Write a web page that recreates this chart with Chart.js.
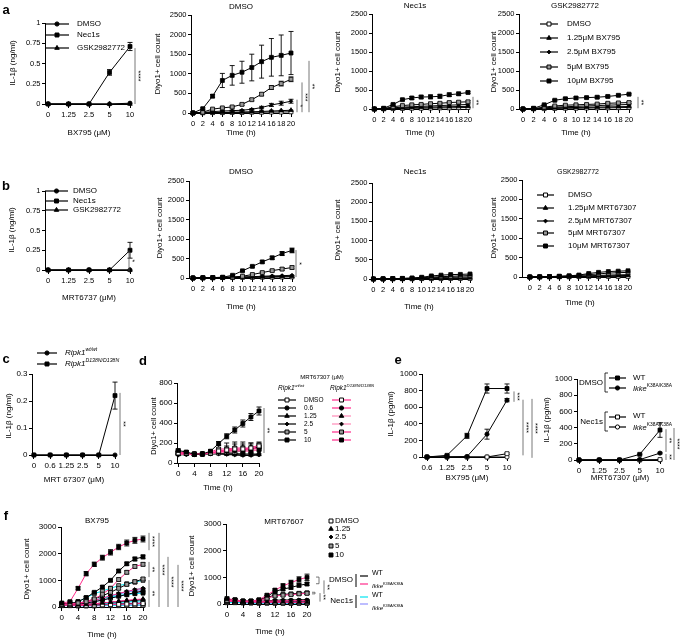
<!DOCTYPE html>
<html lang="en">
<head>
<meta charset="UTF-8" />
<title>IL-1b and Diyo1+ panels</title>
<script src="https://cdn.jsdelivr.net/npm/chart.js"></script>
<style>
  html, body { margin: 0; padding: 0; background: #fff; }
  #page { position: relative; width: 685px; height: 640px; overflow: hidden; }
  #page canvas { position: absolute; left: 0; top: 0; }
</style>
</head>
<body>
<div id="page"></div>
<script>
// ---------- axes / labels ----------
const hours = [0, 2, 4, 6, 8, 10, 12, 14, 16, 18, 20];
const hourTicks2 = [0, 2, 4, 6, 8, 10, 12, 14, 16, 18, 20];
const hourTicks4 = [0, 4, 8, 12, 16, 20];
const doseBX = ['0', '1.25', '2.5', '5', '10'];
const doseMRT = ['0', '1.25', '2.5', '5', '10'];
const doseC = ['0', '0.6', '1.25', '2.5', '5', '10'];
const doseE1 = ['0.6', '1.25', '2.5', '5', '10'];
const doseE2 = ['0', '1.25', '2.5', '5', '10'];
const il1bTicks = [0, 0.25, 0.5, 0.75, 1];
const countTicks = [0, 500, 1000, 1500, 2000, 2500];
const cTicks = [0, 0.1, 0.2, 0.3];
const dTicks = [0, 200, 400, 600, 800];
const eTicks = [0, 200, 400, 600, 800, 1000];
const fTicks = [0, 1000, 2000, 3000];

const inhibitors = ['DMSO', 'Nec1s', 'GSK2982772'];
const concBX = ['DMSO', '1.25μM BX795', '2.5μM BX795', '5μM BX795', '10μM BX795'];
const concMRT = ['DMSO', '1.25μM MRT67307', '2.5μM MRT67307', '5μM MRT67307', '10μM MRT67307'];
const concD = ['DMSO', '0.6', '1.25', '2.5', '5', '10'];
const concF = ['DMSO', '1.25', '2.5', '5', '10'];

// ---------- panel a ----------
const a1Dmso = [0, 0, 0, 0.39, 0.71];
const a1DmsoErr = [0, 0, 0, 0.035, 0.05];
const a1Nec1s = [0, 0, 0, 0, 0.01];
const a1Gsk = [0, 0, 0, 0, 0];
// rows: DMSO, 1.25, 2.5, 5, 10 uM
const a2Counts = [
  [0, 5, 10, 10, 15, 15, 20, 20, 25, 25, 30],
  [0, 5, 10, 15, 20, 25, 30, 40, 50, 60, 70],
  [0, 10, 35, 50, 60, 70, 95, 140, 205, 250, 300],
  [0, 20, 100, 130, 155, 220, 340, 480, 650, 750, 860],
  [0, 110, 430, 830, 960, 1040, 1160, 1310, 1420, 1470, 1530]
];
const a2Err = [null, null,
  [0, 5, 10, 10, 15, 15, 20, 30, 40, 50, 50],
  [0, 10, 20, 20, 25, 30, 30, 40, 50, 60, 60],
  [0, 20, 40, 180, 250, 280, 340, 420, 480, 520, 550]];
const a3Counts = [
  [0, 5, 10, 15, 20, 20, 25, 30, 30, 35, 40],
  [0, 5, 20, 30, 40, 45, 50, 55, 60, 65, 70],
  [0, 5, 30, 50, 60, 70, 80, 90, 100, 110, 120],
  [0, 10, 60, 90, 110, 120, 140, 150, 170, 180, 190],
  [0, 20, 120, 245, 290, 315, 320, 335, 375, 400, 435]
];
const a3Err = [null, null, null,
  [0, 5, 10, 15, 20, 20, 20, 25, 25, 30, 30],
  [0, 5, 15, 25, 40, 45, 50, 50, 45, 40, 30]];
const a4Counts = [
  [0, 5, 10, 15, 20, 20, 25, 30, 30, 35, 40],
  [0, 5, 20, 30, 35, 40, 45, 50, 55, 60, 65],
  [0, 5, 30, 50, 60, 70, 80, 90, 100, 110, 120],
  [0, 10, 50, 80, 100, 110, 120, 130, 150, 160, 170],
  [0, 20, 110, 230, 270, 290, 300, 310, 330, 360, 390]
];
const a4Err = [null, null, null,
  [0, 5, 10, 15, 20, 20, 20, 20, 25, 25, 25],
  [0, 5, 10, 20, 30, 30, 30, 30, 30, 30, 20]];

// ---------- panel b ----------
const b1Dmso = [0, 0, 0, 0, 0.25];
const b1DmsoErr = [0, 0, 0, 0, 0.1];
const b1Nec1s = [0, 0, 0, 0, 0];
const b1Gsk = [0, 0, 0, 0, 0];
const b2Counts = [
  [0, 5, 5, 10, 10, 15, 15, 20, 20, 25, 30],
  [0, 5, 10, 10, 15, 20, 25, 30, 35, 40, 45],
  [0, 5, 10, 15, 20, 25, 35, 45, 55, 60, 70],
  [0, 5, 10, 15, 25, 45, 90, 140, 190, 230, 270],
  [0, 5, 10, 20, 70, 185, 300, 415, 520, 630, 710]
];
const b2Err = [null, null, null,
  [0, 0, 5, 5, 10, 10, 15, 20, 30, 40, 40],
  [0, 0, 5, 5, 10, 15, 20, 30, 40, 50, 60]];
const b3Counts = [
  [0, 0, 5, 5, 5, 10, 10, 10, 15, 15, 15],
  [0, 0, 5, 5, 10, 10, 15, 20, 20, 25, 30],
  [0, 5, 5, 10, 15, 20, 30, 40, 45, 50, 55],
  [0, 5, 10, 15, 20, 30, 50, 60, 70, 80, 90],
  [0, 5, 10, 15, 25, 45, 80, 100, 115, 120, 130]
];
const b4Counts = [
  [0, 0, 5, 5, 5, 10, 10, 10, 15, 15, 15],
  [0, 0, 5, 5, 10, 15, 20, 25, 30, 35, 40],
  [0, 5, 5, 10, 15, 20, 30, 40, 50, 55, 60],
  [0, 5, 10, 15, 25, 40, 60, 80, 100, 110, 120],
  [0, 5, 10, 20, 30, 50, 90, 120, 140, 150, 160]
];

// ---------- panel c ----------
const cWt = [0, 0, 0, 0, 0, 0.22];
const cWtErr = [0, 0, 0, 0, 0, 0.05];
const cD138N = [0, 0, 0, 0, 0, 0];

// ---------- panel d (rows: DMSO, 0.6, 1.25, 2.5, 5, 10 uM) ----------
const dWt = [
  [110, 100, 90, 90, 100, 100, 110, 110, 120, 130, 160],
  [90, 90, 85, 90, 95, 100, 100, 95, 90, 90, 90],
  [85, 90, 85, 90, 95, 95, 90, 85, 80, 80, 85],
  [80, 85, 85, 90, 90, 90, 85, 80, 75, 75, 80],
  [100, 100, 90, 90, 100, 110, 120, 120, 130, 140, 160],
  [125, 110, 88, 90, 118, 195, 267, 330, 395, 460, 520]
];
const dWtErr = [null, null, null, null,
  [15, 10, 10, 10, 10, 20, 30, 40, 40, 40, 30],
  [15, 15, 10, 10, 15, 20, 25, 30, 35, 35, 40]];
const dMut = [
  [100, 100, 90, 90, 100, 120, 130, 140, 140, 150, 170],
  [90, 90, 85, 90, 100, 110, 120, 130, 130, 140, 150],
  [90, 90, 85, 90, 100, 110, 120, 125, 130, 135, 140],
  [85, 90, 85, 90, 95, 100, 110, 115, 120, 125, 130],
  [110, 100, 90, 90, 110, 140, 140, 150, 150, 150, 180],
  [100, 95, 85, 90, 100, 120, 130, 130, 120, 120, 130]
];
const dMutErr = [[20, 15, 10, 10, 20, 30, 40, 50, 50, 50, 30], null, null, null,
  [20, 15, 10, 10, 20, 40, 60, 60, 60, 50, 30], null];

// ---------- panel e ----------
const e1DmsoWt = [0, 20, 255, 825, 825];
const e1DmsoWtErr = [0, 10, 30, 55, 55];
const e1DmsoIkke = [0, 0, 5, 275, 685];
const e1DmsoIkkeErr = [0, 0, 0, 60, 20];
const e1Nec1sWt = [0, 0, 0, 0, 40];
const e1Nec1sWtErr = [0, 0, 0, 0, 10];
const e1Nec1sIkke = [0, 0, 0, 0, 0];
const e2DmsoWt = [0, 0, 0, 70, 370];
const e2DmsoWtErr = [0, 0, 0, 5, 90];
const e2DmsoIkke = [0, 0, 0, 5, 85];
const e2DmsoIkkeErr = [0, 0, 0, 0, 10];
const e2Nec1sWt = [0, 0, 0, 0, 5];
const e2Nec1sIkke = [0, 0, 0, 0, 0];

// ---------- panel f (rows: DMSO, 1.25, 2.5, 5, 10 uM) ----------
const f1Wt = [
  [80, 80, 70, 70, 80, 90, 100, 110, 120, 130, 140],
  [90, 90, 90, 100, 120, 150, 180, 200, 230, 250, 280],
  [100, 100, 110, 150, 200, 260, 330, 400, 470, 540, 600],
  [100, 110, 140, 200, 300, 420, 550, 700, 850, 950, 1050],
  [120, 130, 200, 350, 550, 750, 1000, 1350, 1620, 1800, 1880]
];
const f1WtErr = [null, null, null,
  [20, 20, 20, 30, 30, 40, 40, 50, 60, 60, 60],
  [20, 20, 30, 40, 40, 50, 50, 60, 60, 70, 70]];
const f1Ikke = [
  [70, 70, 60, 60, 70, 80, 90, 100, 110, 120, 130],
  [80, 80, 80, 100, 120, 150, 180, 220, 250, 280, 300],
  [100, 110, 130, 180, 250, 330, 420, 510, 580, 650, 700],
  [100, 120, 150, 200, 300, 480, 700, 1030, 1300, 1520, 1600],
  [150, 200, 700, 1250, 1600, 1850, 2050, 2250, 2400, 2500, 2550]
];
const f1IkkeErr = [null, null, null,
  [20, 20, 30, 30, 40, 50, 50, 60, 60, 60, 60],
  [30, 30, 60, 80, 80, 90, 100, 100, 110, 110, 110]];
const f1Nec1sWt = [
  [60, 60, 50, 50, 50, 60, 60, 70, 70, 80, 80],
  [70, 70, 70, 80, 100, 120, 150, 170, 190, 210, 230],
  [80, 90, 120, 170, 250, 330, 420, 500, 580, 650, 700],
  [100, 120, 200, 350, 500, 600, 700, 800, 870, 930, 1000],
  [100, 120, 150, 200, 260, 320, 380, 430, 470, 500, 520]
];
const f1Nec1sIkke = [
  [50, 50, 40, 40, 40, 50, 50, 50, 60, 60, 60],
  [60, 60, 60, 70, 80, 100, 110, 130, 140, 150, 160],
  [70, 70, 80, 100, 120, 150, 180, 210, 240, 260, 280],
  [80, 90, 110, 150, 200, 260, 330, 400, 460, 520, 560],
  [100, 110, 140, 190, 250, 320, 400, 480, 550, 610, 650]
];
const f2Wt = [
  [120, 110, 90, 80, 80, 70, 60, 60, 60, 50, 50],
  [130, 120, 100, 90, 90, 90, 90, 80, 80, 80, 80],
  [140, 130, 100, 90, 100, 120, 140, 150, 150, 160, 160],
  [150, 140, 100, 100, 120, 250, 330, 360, 380, 400, 420],
  [160, 150, 110, 110, 140, 280, 470, 560, 620, 700, 750]
];
const f2WtErr = [null, null, null,
  [30, 30, 20, 20, 20, 40, 40, 40, 40, 50, 50],
  [40, 30, 20, 20, 30, 40, 50, 60, 60, 60, 60]];
const f2Ikke = [
  [100, 100, 80, 70, 70, 60, 60, 50, 50, 50, 50],
  [110, 110, 90, 80, 80, 80, 80, 80, 70, 70, 70],
  [120, 120, 90, 90, 100, 110, 120, 120, 130, 130, 130],
  [130, 130, 100, 100, 130, 220, 300, 330, 350, 380, 400],
  [200, 160, 110, 110, 160, 330, 520, 680, 800, 920, 1000]
];
const f2IkkeErr = [null, null, null,
  [30, 30, 20, 20, 20, 40, 40, 40, 40, 50, 50],
  [60, 50, 30, 30, 40, 50, 60, 80, 90, 100, 120]];
const f2Nec1sWt = [
  [60, 60, 50, 40, 40, 40, 40, 30, 30, 30, 30],
  [70, 70, 60, 50, 50, 50, 50, 50, 40, 40, 40],
  [80, 80, 60, 60, 60, 60, 60, 60, 60, 60, 60],
  [90, 90, 70, 70, 70, 80, 90, 90, 100, 100, 100],
  [100, 100, 80, 80, 80, 100, 110, 110, 120, 120, 120]
];
const f2Nec1sIkke = [
  [50, 50, 40, 40, 30, 30, 30, 30, 30, 30, 30],
  [60, 60, 50, 50, 40, 40, 40, 40, 40, 40, 40],
  [70, 70, 60, 50, 50, 50, 50, 50, 50, 50, 50],
  [80, 80, 60, 60, 60, 70, 70, 70, 80, 80, 80],
  [90, 90, 70, 70, 70, 80, 90, 100, 100, 110, 110]
];

// ---------- drawing helpers ----------
const FONT = "'Liberation Sans', Arial, sans-serif";
Chart.defaults.font.family = FONT;
Chart.defaults.font.size = 8;
Chart.defaults.color = '#000';

const PINK = '#ff2a8a', PINK2 = '#ff8ab8', CYAN = '#00e5f0', PURPLE = '#9090ff';
const MK = {
  open: { ps: 'rect', r: 2.8, bg: '#fff' },
  tri: { ps: 'triangle', r: 2.6, bg: '#000' },
  dia: { ps: 'rectRot', r: 1.9, bg: '#000' },
  grey: { ps: 'rect', r: 2.8, bg: '#999' },
  sq: { ps: 'rect', r: 2.8, bg: '#000' },
  circ: { ps: 'circle', r: 2.1, bg: '#000' },
  ocirc: { ps: 'circle', r: 2.1, bg: '#fff' }
};
const concMarks = [MK.open, MK.tri, MK.dia, MK.grey, MK.sq];
const dMarks = [MK.open, MK.circ, MK.tri, MK.dia, MK.grey, MK.sq];
const dPinks = [PINK, PINK, PINK2, PINK2, PINK, PINK];

const page = document.getElementById('page');

function txt(ctx, s, x, y, o = {}) {
  ctx.save();
  ctx.font = (o.style || '') + ' ' + (o.size || 8) + 'px ' + FONT;
  ctx.fillStyle = '#000';
  ctx.textAlign = o.align || 'center';
  ctx.textBaseline = 'middle';
  ctx.translate(x, y);
  if (o.rot) ctx.rotate(o.rot);
  ctx.fillText(s, 0, 0);
  ctx.restore();
}

function rich(ctx, parts, x, y, size) {
  ctx.save();
  ctx.textBaseline = 'middle';
  ctx.textAlign = 'left';
  ctx.fillStyle = '#000';
  let cx = x;
  for (const [s, k] of parts) {
    const sup = k.includes('s');
    const fs = sup ? size * 0.65 : size;
    ctx.font = (k.includes('i') ? 'italic ' : '') + fs + 'px ' + FONT;
    ctx.fillText(s, cx, sup ? y - size * 0.4 : y);
    cx += ctx.measureText(s).width;
  }
  ctx.restore();
}

function marker(ctx, mk, x, y) {
  ctx.save();
  ctx.fillStyle = mk.bg;
  ctx.strokeStyle = '#000';
  ctx.lineWidth = 1;
  Chart.helpers.drawPoint(ctx, { pointStyle: mk.ps, radius: mk.r, rotation: 0, borderWidth: 1 }, x, y);
  ctx.restore();
}

function legendRow(ctx, mk, color, x1, x2, y) {
  ctx.save();
  ctx.strokeStyle = color;
  ctx.lineWidth = 1.2;
  ctx.beginPath();
  ctx.moveTo(x1, y);
  ctx.lineTo(x2, y);
  ctx.stroke();
  ctx.restore();
  if (mk) marker(ctx, mk, (x1 + x2) / 2, y);
}

function line(ctx, pts, color, w) {
  ctx.save();
  ctx.strokeStyle = color || '#000';
  ctx.lineWidth = w || 0.8;
  ctx.beginPath();
  pts.forEach(([x, y], i) => i ? ctx.lineTo(x, y) : ctx.moveTo(x, y));
  ctx.stroke();
  ctx.restore();
}

const errorBars = {
  id: 'errorBars',
  beforeDatasetsDraw(chart) {
    const { ctx, scales: { x, y } } = chart;
    ctx.save();
    ctx.strokeStyle = '#000';
    ctx.lineWidth = 0.9;
    chart.data.datasets.forEach(ds => {
      if (!ds.err) return;
      ds.data.forEach((p, i) => {
        const e = ds.err[i];
        if (!e) return;
        const px = x.getPixelForValue(p.x);
        const t = y.getPixelForValue(p.y + e), b = y.getPixelForValue(p.y - e);
        ctx.beginPath();
        ctx.moveTo(px, t); ctx.lineTo(px, b);
        ctx.moveTo(px - 2.5, t); ctx.lineTo(px + 2.5, t);
        ctx.moveTo(px - 2.5, b); ctx.lineTo(px + 2.5, b);
        ctx.stroke();
      });
    });
    ctx.restore();
  }
};

function drawSigs(ctx, y, sigs) {
  for (const s of sigs) {
    const a = y.getPixelForValue(s.y1), b = y.getPixelForValue(s.y2);
    if (s.cap) line(ctx, [[s.x - 3, a], [s.x, a], [s.x, b], [s.x - 3, b]], '#555');
    else line(ctx, [[s.x, a], [s.x, b]], '#555');
    if (s.t) txt(ctx, s.t, s.x + 3, (a + b) / 2, { size: 7, rot: Math.PI / 2 });
  }
}

function build(p) {
  const cv = document.createElement('canvas');
  cv.width = 685; cv.height = 640;
  cv.style.width = '685px'; cv.style.height = '640px';
  page.appendChild(cv);
  const YW = 30, XH = 16;
  const [L, T, R, B] = p.area;
  const axisFont = { size: p.tickSize || 8 };
  new Chart(cv, {
    type: 'line',
    data: {
      datasets: p.series.map(s => ({
        data: p.xs.map((x, i) => ({ x, y: s.y[i] })),
        err: s.err || null,
        borderColor: s.color || '#000',
        borderWidth: 1,
        pointStyle: s.mk.ps,
        pointRadius: s.mk.r,
        pointBackgroundColor: s.mk.bg,
        pointBorderColor: '#000',
        pointBorderWidth: 0.8,
        clip: false,
        tension: 0,
        fill: false
      }))
    },
    options: {
      responsive: false,
      animation: false,
      events: [],
      layout: { padding: { left: L - YW, top: T, right: 685 - R, bottom: 640 - B - XH } },
      plugins: { legend: { display: false }, tooltip: { enabled: false } },
      scales: {
        x: {
          type: 'linear', min: p.xMin, max: p.xMax,
          afterBuildTicks: s => { s.ticks = p.xTicks.map(v => ({ value: v })); },
          afterFit: s => { s.height = XH; },
          ticks: { autoSkip: false, maxRotation: 0, padding: 2, font: axisFont,
            callback: p.xLabel || (v => String(v)) },
          grid: { drawOnChartArea: false, tickLength: 4, color: '#000' },
          border: { color: '#000' }
        },
        y: {
          type: 'linear', min: 0, max: p.yMax,
          afterBuildTicks: s => { s.ticks = p.yTicks.map(v => ({ value: v })); },
          afterFit: s => { s.width = YW; },
          ticks: { padding: 1.5, font: axisFont, callback: v => String(v) },
          grid: { drawOnChartArea: false, tickLength: 3, color: '#000' },
          border: { color: '#000' }
        }
      }
    },
    plugins: [errorBars, {
      id: 'extra',
      afterDraw(chart) {
        const ctx = chart.ctx;
        (p.texts || []).forEach(([s, x, y, o]) => txt(ctx, s, x, y, o));
        drawSigs(ctx, chart.scales.y, p.sigs || []);
        if (p.legend) p.legend(ctx);
      }
    }]
  });
}

function concSeries(rows, errs, colors) {
  // drawn so that the highest concentration sits on top
  return rows.map((y, i) => ({ y, err: errs ? errs[i] : null, mk: concMarks[i], color: colors ? colors[i] : '#000' })).reverse();
}

const ROT = -Math.PI / 2;
const idx5 = [0, 1, 2, 3, 4];

// ---------- panel a ----------
build({
  area: [45, 23, 130, 104], xs: idx5, xMin: -0.15, xMax: 4, xTicks: idx5, tickSize: 7.5,
  xLabel: (v, i) => doseBX[i], yMax: 1, yTicks: il1bTicks,
  series: [
    { y: a1Dmso, err: a1DmsoErr, mk: MK.sq },
    { y: a1Nec1s, mk: MK.circ },
    { y: a1Gsk, mk: MK.tri }
  ],
  sigs: [{ x: 135, y1: 0.69, y2: 0, t: '****' }],
  texts: [['a', 6, 10, { size: 13, style: 'bold' }], ['IL-1β (ng/ml)', 13, 63, { rot: ROT }], ['BX795 (μM)', 89, 133]],
  legend: ctx => {
    [[MK.circ, 24], [MK.sq, 35], [MK.tri, 48]].forEach(([mk, y], i) => {
      legendRow(ctx, mk, '#000', 45, 69, y);
      txt(ctx, inhibitors[i], 77, y, { align: 'left' });
    });
  }
});

build({
  area: [191, 15, 291, 113], xs: hours, xMin: -0.4, xMax: 20, xTicks: hourTicks2, tickSize: 7.5,
  yMax: 2500, yTicks: countTicks, series: concSeries(a2Counts, a2Err),
  sigs: [{ x: 297, y1: 340, y2: 20, t: '*' }, { x: 302, y1: 780, y2: 20, t: '***' }, { x: 309, y1: 1330, y2: 20, t: '**' }],
  texts: [['DMSO', 241, 7], ['Diyo1+ cell count', 158, 64, { rot: ROT }], ['Time (h)', 241, 133]]
});

build({
  area: [372, 14, 468, 109], xs: hours, xMin: -0.5, xMax: 20, xTicks: hourTicks2, tickSize: 7.5,
  yMax: 2500, yTicks: countTicks, series: concSeries(a3Counts, a3Err),
  sigs: [{ x: 473, y1: 320, y2: 20, t: '**' }],
  texts: [['Nec1s', 415, 6], ['Diyo1+ cell count', 338, 62, { rot: ROT }], ['Time (h)', 420, 133]]
});

build({
  area: [519, 14, 629, 109], xs: hours, xMin: -0.75, xMax: 20, xTicks: hourTicks2, tickSize: 7.5,
  yMax: 2500, yTicks: countTicks, series: concSeries(a4Counts, a4Err),
  sigs: [{ x: 638, y1: 320, y2: 20, t: '**' }],
  texts: [['GSK2982772', 575, 6], ['Diyo1+ cell count', 494, 62, { rot: ROT }], ['Time (h)', 576, 133]],
  legend: ctx => {
    [24, 38, 52, 67, 81].forEach((y, i) => {
      legendRow(ctx, concMarks[i], '#000', 540, 558, y);
      txt(ctx, concBX[i], 567, y, { align: 'left' });
    });
  }
});

// ---------- panel b ----------
build({
  area: [45, 191, 130, 270], xs: idx5, xMin: -0.15, xMax: 4, xTicks: idx5, tickSize: 7.5,
  xLabel: (v, i) => doseMRT[i], yMax: 1, yTicks: il1bTicks,
  series: [
    { y: b1Dmso, err: b1DmsoErr, mk: MK.sq },
    { y: b1Nec1s, mk: MK.circ },
    { y: b1Gsk, mk: MK.tri }
  ],
  sigs: [{ x: 129, y1: 0.25, y2: -0.02, t: '*' }],
  texts: [['b', 6, 186, { size: 13, style: 'bold' }], ['IL-1β (ng/ml)', 12, 230, { rot: ROT }], ['MRT6737 (μM)', 89, 298]],
  legend: ctx => {
    [[MK.circ, 191], [MK.sq, 201], [MK.tri, 210]].forEach(([mk, y], i) => {
      legendRow(ctx, mk, '#000', 45, 68, y);
      txt(ctx, inhibitors[i], 73, y, { align: 'left' });
    });
  }
});

build({
  area: [189, 181, 292, 278], xs: hours, xMin: -0.8, xMax: 20, xTicks: hourTicks2, tickSize: 7.5,
  yMax: 2500, yTicks: countTicks, series: concSeries(b2Counts, b2Err),
  sigs: [{ x: 296, y1: 720, y2: 25, t: '*' }],
  texts: [['DMSO', 241, 172], ['Diyo1+ cell count', 160, 228, { rot: ROT }], ['Time (h)', 241, 307]]
});

build({
  area: [372, 183, 470, 279], xs: hours, xMin: -0.3, xMax: 20, xTicks: hourTicks2, tickSize: 7.5,
  yMax: 2500, yTicks: countTicks, series: concSeries(b3Counts),
  texts: [['Nec1s', 415, 172], ['Diyo1+ cell count', 338, 230, { rot: ROT }], ['Time (h)', 419, 307]]
});

build({
  area: [522, 180, 628, 277], xs: hours, xMin: -1.6, xMax: 20, xTicks: hourTicks2, tickSize: 7.5,
  yMax: 2500, yTicks: countTicks, series: concSeries(b4Counts),
  texts: [['GSK2982772', 578, 172, { size: 7 }], ['Diyo1+ cell count', 494, 228, { rot: ROT }], ['Time (h)', 580, 303]],
  legend: ctx => {
    [195, 208, 221, 233, 246].forEach((y, i) => {
      legendRow(ctx, concMarks[i], '#000', 537, 554, y);
      txt(ctx, concMRT[i], 568, y, { align: 'left' });
    });
  }
});

// ---------- panel c ----------
build({
  area: [32, 374, 115, 455], xs: [0, 1, 2, 3, 4, 5], xMin: -0.12, xMax: 5, xTicks: [0, 1, 2, 3, 4, 5],
  xLabel: (v, i) => doseC[i], yMax: 0.3, yTicks: cTicks,
  series: [{ y: cWt, err: cWtErr, mk: MK.sq }, { y: cD138N, mk: MK.circ }],
  sigs: [{ x: 120, y1: 0.23, y2: 0, t: '**' }],
  texts: [['c', 6, 359, { size: 13, style: 'bold' }], ['IL-1β (ng/ml)', 9, 416, { rot: ROT }], ['MRT 67307 (μM)', 74, 480]],
  legend: ctx => {
    legendRow(ctx, MK.circ, '#000', 37, 57, 353);
    rich(ctx, [['Ripk1', 'i'], ['wt/wt', 'is']], 65, 353, 8);
    legendRow(ctx, MK.sq, '#000', 37, 57, 364);
    rich(ctx, [['Ripk1', 'i'], ['D138N/D138N', 'is']], 65, 364, 8);
  }
});

// ---------- panel d ----------
build({
  area: [177, 383, 259, 463], xs: hours, xMin: -0.3, xMax: 20, xTicks: hourTicks4,
  yMax: 800, yTicks: dTicks,
  series: [
    { y: dWt[5], err: dWtErr[5], mk: MK.sq },
    ...dMut.map((y, i) => ({ y, err: dMutErr[i], mk: dMarks[i], color: dPinks[i] })),
    ...dWt.slice(0, 5).map((y, i) => ({ y, err: dWtErr[i], mk: dMarks[i] }))
  ],
  sigs: [{ x: 264, y1: 550, y2: 100, t: '**' }],
  texts: [['d', 143, 361, { size: 13, style: 'bold' }], ['Diyo1+ cell count', 154, 426, { rot: ROT, size: 7.5 }], ['Time (h)', 218, 488],
    ['MRT67307 (μM)', 322, 377, { size: 6 }]],
  legend: ctx => {
    rich(ctx, [['Ripk1', 'i'], ['wt/wt', 'is']], 278, 388, 6.5);
    rich(ctx, [['Ripk1', 'i'], ['D138N/D138N', 'is']], 330, 388, 6.5);
    [400, 408, 416, 424, 432, 440].forEach((y, i) => {
      legendRow(ctx, dMarks[i], '#000', 278, 296, y);
      txt(ctx, concD[i], 304, y, { align: 'left', size: 6.5 });
      legendRow(ctx, dMarks[i], dPinks[i], 332, 351, y);
    });
  }
});

// ---------- panel e ----------
build({
  area: [422, 374, 507, 457], xs: idx5, xMin: -0.25, xMax: 4, xTicks: idx5,
  xLabel: (v, i) => doseE1[i], yMax: 1000, yTicks: eTicks,
  series: [
    { y: e1DmsoWt, err: e1DmsoWtErr, mk: MK.sq },
    { y: e1DmsoIkke, err: e1DmsoIkkeErr, mk: MK.circ },
    { y: e1Nec1sWt, err: e1Nec1sWtErr, mk: MK.open },
    { y: e1Nec1sIkke, mk: MK.ocirc }
  ],
  sigs: [{ x: 514, y1: 790, y2: 665, t: '***' }, { x: 523, y1: 690, y2: 20, t: '****' }, { x: 532, y1: 700, y2: -10, t: '****' }],
  texts: [['e', 398, 360, { size: 13, style: 'bold' }], ['IL-1β (pg/ml)', 391, 414, { rot: ROT }], ['BX795 (μM)', 467, 478]]
});

build({
  area: [577, 379, 660, 460], xs: idx5, xMin: -0.1, xMax: 4, xTicks: idx5,
  xLabel: (v, i) => doseE2[i], yMax: 1000, yTicks: eTicks,
  series: [
    { y: e2DmsoWt, err: e2DmsoWtErr, mk: MK.sq },
    { y: e2DmsoIkke, err: e2DmsoIkkeErr, mk: MK.circ },
    { y: e2Nec1sWt, mk: MK.open },
    { y: e2Nec1sIkke, mk: MK.ocirc }
  ],
  sigs: [{ x: 666, y1: 380, y2: 100, t: '**' }, { x: 666, y1: 75, y2: 0, t: '**' }, { x: 674, y1: 395, y2: 0, t: '****' }],
  texts: [['IL-1β (pg/ml)', 547, 420, { rot: ROT }], ['MRT67307 (μM)', 620, 478]],
  legend: ctx => {
    txt(ctx, 'DMSO', 603, 383, { align: 'right' });
    line(ctx, [[608, 373], [605, 373], [605, 392], [608, 392]], '#000');
    legendRow(ctx, MK.sq, '#000', 609, 626, 378);
    txt(ctx, 'WT', 633, 378, { align: 'left' });
    legendRow(ctx, MK.circ, '#000', 609, 626, 388);
    rich(ctx, [['Ikke', 'i'], ['K38A/K38A', 's']], 633, 389, 7.5);
    txt(ctx, 'Nec1s', 603, 422, { align: 'right' });
    line(ctx, [[608, 412], [605, 412], [605, 431], [608, 431]], '#000');
    legendRow(ctx, MK.open, '#000', 609, 626, 417);
    txt(ctx, 'WT', 633, 416, { align: 'left' });
    legendRow(ctx, MK.ocirc, '#000', 609, 626, 427);
    rich(ctx, [['Ikke', 'i'], ['K38A/K38A', 's']], 633, 428, 7.5);
  }
});

// ---------- panel f ----------
function fSeries(wt, wtErr, ikke, ikkeErr, nWt, nIkke) {
  return [
    ...concSeries(ikke, ikkeErr, Array(5).fill(PINK)),
    ...concSeries(wt, wtErr, Array(5).fill('#000')),
    ...concSeries(nWt, null, Array(5).fill(CYAN)),
    ...concSeries(nIkke, null, Array(5).fill(PURPLE))
  ];
}

build({
  area: [61, 527, 143, 607], xs: hours, xMin: -0.2, xMax: 20, xTicks: hourTicks4,
  yMax: 3000, yTicks: fTicks, series: fSeries(f1Wt, f1WtErr, f1Ikke, f1IkkeErr, f1Nec1sWt, f1Nec1sIkke),
  sigs: [
    { x: 149, y1: 2780, y2: 2130, t: '****' }, { x: 149, y1: 1690, y2: 1120, t: '**' },
    { x: 149, y1: 1010, y2: 0, t: '**' }, { x: 159, y1: 2780, y2: 0, t: '****' },
    { x: 168, y1: 1880, y2: 0, t: '****' }, { x: 178, y1: 1580, y2: 0, t: '****' }
  ],
  texts: [['f', 6, 516, { size: 13, style: 'bold' }], ['BX795', 97, 521], ['Diyo1+ cell count', 27, 569, { rot: ROT }], ['Time (h)', 102, 635]]
});

build({
  area: [226, 524, 307, 604], xs: hours, xMin: -0.25, xMax: 20, xTicks: hourTicks4,
  yMax: 3000, yTicks: fTicks, series: fSeries(f2Wt, f2WtErr, f2Ikke, f2IkkeErr, f2Nec1sWt, f2Nec1sIkke),
  sigs: [
    { x: 319, y1: 1010, y2: 760, cap: true }, { x: 324, y1: 885, y2: 380, t: '**' },
    { x: 315, y1: 440, y2: 380, cap: true }, { x: 320, y1: 410, y2: 90, t: '**' }
  ],
  texts: [['MRT67607', 284, 522], ['Diyo1+ cell count', 192, 566, { rot: ROT }], ['Time (h)', 270, 632]],
  legend: ctx => {
    [521, 529, 537, 546, 555].forEach((y, i) => {
      marker(ctx, concMarks[i], 331, y);
      txt(ctx, concF[i], 335, y, { align: 'left' });
    });
    txt(ctx, 'DMSO', 353, 580, { align: 'right' });
    line(ctx, [[356, 574], [356, 587]], '#000', 1);
    legendRow(ctx, null, '#000', 360, 368, 576);
    legendRow(ctx, null, PINK, 360, 368, 584);
    txt(ctx, 'WT', 372, 573, { align: 'left', size: 7 });
    rich(ctx, [['Ikke', 'i'], ['K38A/K38A', 's']], 372, 586, 6);
    txt(ctx, 'Nec1s', 353, 601, { align: 'right' });
    line(ctx, [[356, 595], [356, 608]], '#000', 1);
    legendRow(ctx, null, CYAN, 360, 368, 597);
    legendRow(ctx, null, PURPLE, 360, 368, 604);
    txt(ctx, 'WT', 372, 595, { align: 'left', size: 7 });
    rich(ctx, [['Ikke', 'i'], ['K38A/K38A', 's']], 372, 608, 6);
  }
});
</script>
</body>
</html>
